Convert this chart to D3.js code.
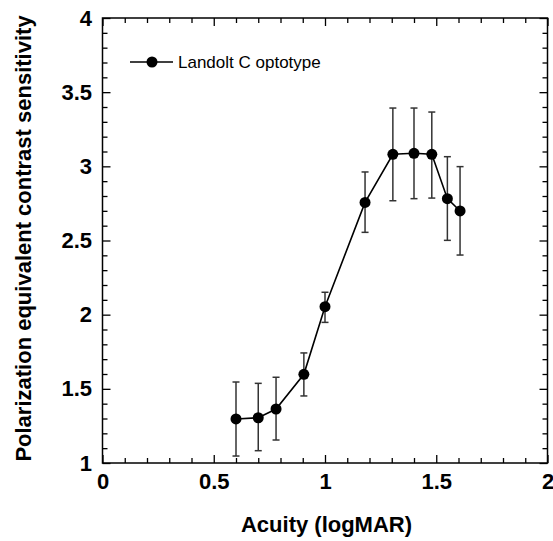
<!DOCTYPE html>
<html>
<head>
<meta charset="utf-8">
<script src="https://cdn.jsdelivr.net/npm/d3@7"></script>
<style>
  html, body { margin: 0; padding: 0; background: #fff; }
  svg { display: block; }
</style>
</head>
<body>
<svg id="chart" width="553" height="541"></svg>
<script>
// ---- data ----
const acuity = [0.60, 0.70, 0.78, 0.905, 1.00, 1.18, 1.305, 1.40, 1.48, 1.55, 1.607];
const sensitivity = [1.297, 1.305, 1.364, 1.598, 2.054, 2.757, 3.081, 3.088, 3.081, 2.782, 2.699];
const errLow = [1.047, 1.083, 1.155, 1.452, 1.948, 2.555, 2.768, 2.782, 2.786, 2.501, 2.402];
const errHigh = [1.546, 1.537, 1.578, 1.742, 2.151, 2.962, 3.393, 3.393, 3.366, 3.065, 2.998];
const xTicks = [0, 0.5, 1, 1.5, 2];
const xTickLabels = ["0", "0.5", "1", "1.5", "2"];
const yTicks = [1, 1.5, 2, 2.5, 3, 3.5, 4];
const yTickLabels = ["1", "1.5", "2", "2.5", "3", "3.5", "4"];
const seriesName = "Landolt C optotype";
const xTitle = "Acuity (logMAR)";
const yTitle = "Polarization equivalent contrast sensitivity";

const data = acuity.map((a, i) => ({x: a, y: sensitivity[i], lo: errLow[i], hi: errHigh[i]}));

// ---- layout ----
const svg = d3.select("#chart");
const L = 102.5, R = 547.5, T = 18, B = 463;
const x = d3.scaleLinear().domain([0, 2]).range([L, R]);
const y = d3.scaleLinear().domain([1, 4]).range([B, T]);

const font = "'Liberation Sans', Arial, Helvetica, sans-serif";
const minorX = d3.range(0, 2.0001, 0.1).map(v => +v.toFixed(2));
const minorY = d3.range(1, 4.0001, 0.1).map(v => +v.toFixed(2));
const isMajor = v => Math.abs(v * 2 - Math.round(v * 2)) < 1e-6;

function styleAxis(g) {
  g.select(".domain").remove();
  g.selectAll("line").attr("stroke", "#000").attr("stroke-width", 1.3);
}

// bottom axis
const gB = svg.append("g").attr("transform", `translate(0,${B})`)
  .call(d3.axisBottom(x).tickValues(minorX).tickSize(-5).tickFormat(() => ""));
styleAxis(gB);
gB.selectAll(".tick line").filter(d => isMajor(d)).attr("y2", -8);
svg.append("g").attr("transform", `translate(0,${B})`)
  .call(d3.axisBottom(x).tickValues(xTicks).tickSize(0).tickPadding(10)
    .tickFormat((d, i) => xTickLabels[i]))
  .call(g => g.select(".domain").remove())
  .selectAll("text").attr("font-family", font).attr("font-size", 22)
  .attr("font-weight", "bold").attr("fill", "#000");

// top axis
const gT = svg.append("g").attr("transform", `translate(0,${T})`)
  .call(d3.axisTop(x).tickValues(minorX).tickSize(-5).tickFormat(() => ""));
styleAxis(gT);
gT.selectAll(".tick line").filter(d => isMajor(d)).attr("y2", 8);

// left axis
const gL = svg.append("g").attr("transform", `translate(${L},0)`)
  .call(d3.axisLeft(y).tickValues(minorY).tickSize(-5).tickFormat(() => ""));
styleAxis(gL);
gL.selectAll(".tick line").filter(d => isMajor(d)).attr("x2", 8);
svg.append("g").attr("transform", `translate(${L},0)`)
  .call(d3.axisLeft(y).tickValues(yTicks).tickSize(0).tickPadding(10.5)
    .tickFormat((d, i) => yTickLabels[i]))
  .call(g => g.select(".domain").remove())
  .selectAll("text").attr("font-family", font).attr("font-size", 22)
  .attr("font-weight", "bold").attr("fill", "#000");

// right axis
const gR = svg.append("g").attr("transform", `translate(${R},0)`)
  .call(d3.axisRight(y).tickValues(minorY).tickSize(-5).tickFormat(() => ""));
styleAxis(gR);
gR.selectAll(".tick line").filter(d => isMajor(d)).attr("x2", -8);

// frame
svg.append("rect").attr("x", L).attr("y", T).attr("width", R - L).attr("height", B - T)
  .attr("fill", "none").attr("stroke", "#000").attr("stroke-width", 1.5);

// error bars
const eb = svg.append("g").attr("stroke", "#333").attr("stroke-width", 1.5);
eb.selectAll("line.v").data(data).join("line").attr("class", "v")
  .attr("x1", d => x(d.x)).attr("x2", d => x(d.x))
  .attr("y1", d => y(d.lo)).attr("y2", d => y(d.hi));
eb.selectAll("line.t").data(data).join("line").attr("class", "t")
  .attr("x1", d => x(d.x) - 3.5).attr("x2", d => x(d.x) + 3.5)
  .attr("y1", d => y(d.hi)).attr("y2", d => y(d.hi));
eb.selectAll("line.b").data(data).join("line").attr("class", "b")
  .attr("x1", d => x(d.x) - 3.5).attr("x2", d => x(d.x) + 3.5)
  .attr("y1", d => y(d.lo)).attr("y2", d => y(d.lo));

// line
svg.append("path").datum(data)
  .attr("d", d3.line().x(d => x(d.x)).y(d => y(d.y)))
  .attr("fill", "none").attr("stroke", "#000").attr("stroke-width", 1.6);

// markers
svg.append("g").selectAll("circle").data(data).join("circle")
  .attr("cx", d => x(d.x)).attr("cy", d => y(d.y)).attr("r", 5.5).attr("fill", "#000");

// legend
const lg = svg.append("g");
lg.append("line").attr("x1", 130).attr("x2", 173).attr("y1", 62).attr("y2", 62)
  .attr("stroke", "#000").attr("stroke-width", 1.4);
lg.append("circle").attr("cx", 152).attr("cy", 62).attr("r", 5.5).attr("fill", "#000");
lg.append("text").attr("x", 178).attr("y", 68).text(seriesName)
  .attr("font-family", font).attr("font-size", 17).attr("fill", "#000");

// axis titles
svg.append("text").attr("x", 326.5).attr("y", 532).attr("text-anchor", "middle")
  .attr("font-family", font).attr("font-size", 22).attr("font-weight", "bold")
  .text(xTitle);
svg.append("text").attr("transform", `translate(31,${(T + B) / 2 - 2}) rotate(-90)`)
  .attr("text-anchor", "middle")
  .attr("font-family", font).attr("font-size", 22).attr("font-weight", "bold")
  .text(yTitle);
</script>
</body>
</html>
